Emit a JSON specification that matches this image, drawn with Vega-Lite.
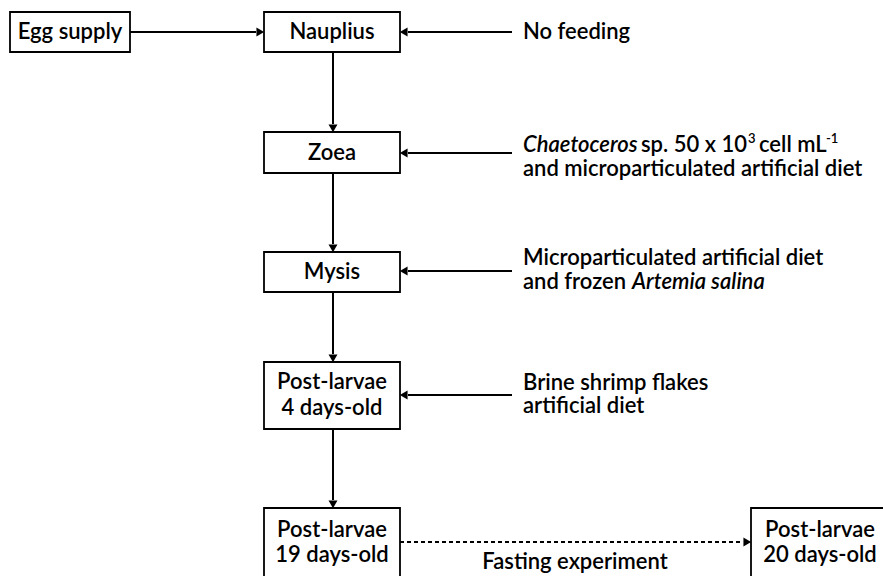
{
  "$schema": "https://vega.github.io/schema/vega-lite/v6.json",
  "width": 883,
  "height": 576,
  "padding": 0,
  "autosize": {"type": "none"},
  "background": "white",
  "config": {"view": {"stroke": null}},
  "datasets": {
    "boxes": [
      {"name": "Egg supply", "x1": 10, "x2": 130, "y1": 12, "y2": 52},
      {"name": "Nauplius", "x1": 264, "x2": 400, "y1": 12, "y2": 52},
      {"name": "Zoea", "x1": 264, "x2": 400, "y1": 132, "y2": 173},
      {"name": "Mysis", "x1": 264, "x2": 400, "y1": 252, "y2": 292},
      {"name": "PL4", "x1": 264, "x2": 400, "y1": 362, "y2": 429},
      {"name": "PL19", "x1": 264, "x2": 400, "y1": 508, "y2": 580},
      {"name": "PL20", "x1": 751, "x2": 890, "y1": 508, "y2": 580}
    ],
    "links": [
      {"kind": "solid", "x1": 130, "x2": 256, "y1": 32, "y2": 32},
      {"kind": "solid", "x1": 408, "x2": 512, "y1": 32, "y2": 32},
      {"kind": "solid", "x1": 333, "x2": 333, "y1": 52, "y2": 124},
      {"kind": "solid", "x1": 408, "x2": 512, "y1": 153, "y2": 153},
      {"kind": "solid", "x1": 333, "x2": 333, "y1": 173, "y2": 244},
      {"kind": "solid", "x1": 408, "x2": 512, "y1": 271, "y2": 271},
      {"kind": "solid", "x1": 333, "x2": 333, "y1": 292, "y2": 354},
      {"kind": "solid", "x1": 408, "x2": 512, "y1": 395, "y2": 395},
      {"kind": "solid", "x1": 333, "x2": 333, "y1": 429, "y2": 500},
      {"kind": "dashed", "x1": 400, "x2": 743, "y1": 542, "y2": 542}
    ],
    "heads": [
      {"x": 259, "y": 32, "angle": 90},
      {"x": 405, "y": 32, "angle": 270},
      {"x": 333, "y": 127, "angle": 180},
      {"x": 405, "y": 153, "angle": 270},
      {"x": 333, "y": 247, "angle": 180},
      {"x": 405, "y": 271, "angle": 270},
      {"x": 333, "y": 357, "angle": 180},
      {"x": 405, "y": 395, "angle": 270},
      {"x": 333, "y": 503, "angle": 180},
      {"x": 746, "y": 542, "angle": 90}
    ],
    "labels": [
      {"kind": "box", "x": 70, "y": 32, "text": "Egg supply"},
      {"kind": "box", "x": 332, "y": 32, "text": "Nauplius"},
      {"kind": "box", "x": 332, "y": 153, "text": "Zoea"},
      {"kind": "box", "x": 332, "y": 272, "text": "Mysis"},
      {"kind": "box", "x": 332, "y": 382, "text": "Post-larvae"},
      {"kind": "box", "x": 332, "y": 408, "text": "4 days-old"},
      {"kind": "box", "x": 332, "y": 530, "text": "Post-larvae"},
      {"kind": "box", "x": 332, "y": 555, "text": "19 days-old"},
      {"kind": "box", "x": 820, "y": 530, "text": "Post-larvae"},
      {"kind": "box", "x": 820, "y": 555, "text": "20 days-old"},
      {"kind": "box", "x": 575, "y": 562, "text": "Fasting experiment"},
      {"kind": "note", "x": 523, "y": 32, "text": "No feeding"},
      {"kind": "species", "x": 523, "y": 145, "text": "Chaetoceros"},
      {"kind": "note", "x": 641, "y": 145, "text": "sp. 50 x 10"},
      {"kind": "exponent", "x": 748, "y": 139, "text": "3"},
      {"kind": "note", "x": 759, "y": 145, "text": "cell mL"},
      {"kind": "exponent", "x": 826, "y": 139, "text": "-1"},
      {"kind": "note", "x": 523, "y": 169, "text": "and microparticulated artificial diet"},
      {"kind": "note", "x": 523, "y": 258, "text": "Microparticulated artificial diet"},
      {"kind": "note", "x": 523, "y": 282, "text": "and frozen"},
      {"kind": "species", "x": 632, "y": 282, "text": "Artemia salina"},
      {"kind": "note", "x": 523, "y": 383, "text": "Brine shrimp flakes"},
      {"kind": "note", "x": 523, "y": 406, "text": "artificial diet"}
    ]
  },
  "layer": [
    {
      "data": {"name": "links"},
      "transform": [{"filter": "datum.kind === 'solid'"}],
      "mark": {"type": "rule", "stroke": "black", "strokeWidth": 2},
      "encoding": {
        "x": {"field": "x1", "type": "quantitative", "scale": {"domain": [0, 883], "nice": false, "zero": false}, "axis": null},
        "x2": {"field": "x2"},
        "y": {"field": "y1", "type": "quantitative", "scale": {"domain": [0, 576], "nice": false, "zero": false, "reverse": true}, "axis": null},
        "y2": {"field": "y2"}
      }
    },
    {
      "data": {"name": "links"},
      "transform": [{"filter": "datum.kind === 'dashed'"}],
      "mark": {"type": "rule", "stroke": "black", "strokeWidth": 1.8, "strokeDash": [4, 3]},
      "encoding": {
        "x": {"field": "x1", "type": "quantitative"},
        "x2": {"field": "x2"},
        "y": {"field": "y1", "type": "quantitative"},
        "y2": {"field": "y2"}
      }
    },
    {
      "data": {"name": "heads"},
      "mark": {"type": "point", "shape": "triangle", "filled": true, "color": "black", "opacity": 1, "size": 80},
      "encoding": {
        "x": {"field": "x", "type": "quantitative"},
        "y": {"field": "y", "type": "quantitative"},
        "angle": {"field": "angle", "type": "quantitative", "scale": null}
      }
    },
    {
      "data": {"name": "boxes"},
      "mark": {"type": "rect", "fill": "white", "stroke": "black", "strokeWidth": 1.8},
      "encoding": {
        "x": {"field": "x1", "type": "quantitative"},
        "x2": {"field": "x2"},
        "y": {"field": "y1", "type": "quantitative"},
        "y2": {"field": "y2"}
      }
    },
    {
      "data": {"name": "labels"},
      "transform": [{"filter": "datum.kind === 'box'"}],
      "mark": {"type": "text", "align": "center", "baseline": "middle", "font": "Lato", "fontSize": 22, "fontWeight": 600, "color": "black"},
      "encoding": {
        "x": {"field": "x", "type": "quantitative"},
        "y": {"field": "y", "type": "quantitative"},
        "text": {"field": "text"}
      }
    },
    {
      "data": {"name": "labels"},
      "transform": [{"filter": "datum.kind === 'note'"}],
      "mark": {"type": "text", "align": "left", "baseline": "middle", "font": "Lato", "fontSize": 22, "fontWeight": 600, "color": "black"},
      "encoding": {
        "x": {"field": "x", "type": "quantitative"},
        "y": {"field": "y", "type": "quantitative"},
        "text": {"field": "text"}
      }
    },
    {
      "data": {"name": "labels"},
      "transform": [{"filter": "datum.kind === 'species'"}],
      "mark": {"type": "text", "align": "left", "baseline": "middle", "font": "Lato", "fontSize": 22, "fontWeight": 600, "fontStyle": "italic", "color": "black"},
      "encoding": {
        "x": {"field": "x", "type": "quantitative"},
        "y": {"field": "y", "type": "quantitative"},
        "text": {"field": "text"}
      }
    },
    {
      "data": {"name": "labels"},
      "transform": [{"filter": "datum.kind === 'exponent'"}],
      "mark": {"type": "text", "align": "left", "baseline": "middle", "font": "Lato", "fontSize": 13, "fontWeight": 600, "color": "black"},
      "encoding": {
        "x": {"field": "x", "type": "quantitative"},
        "y": {"field": "y", "type": "quantitative"},
        "text": {"field": "text"}
      }
    }
  ]
}
